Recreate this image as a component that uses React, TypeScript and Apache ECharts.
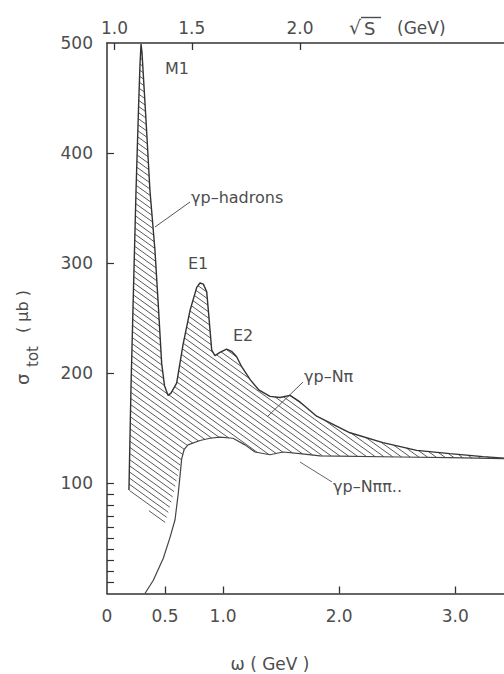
import React, { useEffect, useRef } from "react";
import * as echarts from "echarts";

// proton mass (GeV) for the √s ↔ ω relation of the top axis
const MP = 0.938;

// Total cross section γp → hadrons (upper edge of hatched band): [ω (GeV), σ (μb)]
const totalCurve: number[][] = [
  [0.189, 94], [0.207, 189], [0.228, 276], [0.25, 366], [0.271, 439], [0.284, 480],
  [0.293, 499], [0.301, 492], [0.336, 430], [0.37, 366], [0.413, 312], [0.439, 267],
  [0.471, 209], [0.495, 189], [0.525, 180], [0.551, 182], [0.6, 191], [0.655, 226],
  [0.715, 257], [0.773, 278], [0.801, 282], [0.83, 281], [0.859, 274], [0.874, 256],
  [0.902, 221], [0.93, 216], [0.973, 219], [1.03, 222], [1.073, 220], [1.117, 215],
  [1.16, 206], [1.235, 194], [1.307, 185], [1.404, 179], [1.49, 178], [1.576, 180],
  [1.662, 174], [1.806, 161], [2.093, 146], [2.377, 137], [2.668, 130], [2.954, 127],
  [3.239, 124.3], [3.42, 123],
];

// Lower edge of hatched band, shared with the γp → Nππ.. curve
const lowerBoundary: number[][] = [
  [0.643, 122], [0.665, 131], [0.698, 135], [0.801, 139], [0.887, 141], [0.973, 142], [1.085, 141],
  [1.189, 135], [1.275, 128.5], [1.404, 126], [1.516, 128.5], [1.662, 127], [1.835, 125],
  [2.524, 124], [2.954, 123.5], [3.42, 122.5],
];

// γp → Nππ.. rise from threshold up to the band
const nppRise: number[][] = [
  [0.327, 0], [0.399, 12], [0.485, 32], [0.543, 51], [0.586, 67], [0.614, 91], [0.632, 110],
];

// Bottom edge of the hatching at low ω
const hatchLowerLeft: number[][] = [
  [0.189, 94], [0.491, 61], [0.56, 85], [0.612, 108],
];

const xTickValues = [0.5, 1.0, 2.0, 3.0];
const xLabelValues = [0, 0.5, 1.0, 2.0, 3.0];
const sqrtSLabels = [1.0, 1.5, 2.0];
const yLabelValues = [100, 200, 300, 400, 500];
const yTickValues = [10, 20, 30, 40, 50, 60, 70, 80, 90, 100, 200, 300, 400];

const FONT = "DejaVu Sans";
const TXT = "#4d4d4d";
const INK = "#333";

const omegaOf = (s: number) => (s * s - MP * MP) / (2 * MP);

export default function App() {
  const ref = useRef<HTMLDivElement>(null);

  useEffect(() => {
    const chart = echarts.init(ref.current!, null, { renderer: "svg" });

    const hatchPolygon = [
      ...totalCurve,
      ...lowerBoundary.slice().reverse(),
      ...hatchLowerLeft.slice().reverse(),
    ];
    const lowerLine = [...nppRise, ...lowerBoundary];

    const axisLineStyle = { color: INK, width: 1.5 };
    const labelStyle = { fontFamily: FONT, fontSize: 17, color: TXT };

    const option: any = {
      animation: false,
      backgroundColor: "#fff",
      grid: { left: 107, top: 43, right: 0, bottom: 80.5, containLabel: false, outerBoundsMode: "none" },
      xAxis: [
        {
          type: "value", min: 0, max: 3.42, position: "bottom",
          axisLine: { show: true, lineStyle: axisLineStyle },
          axisTick: { show: true, inside: true, length: 7, customValues: xTickValues, lineStyle: { color: INK, width: 1.3 } },
          axisLabel: {
            ...labelStyle, margin: 14, customValues: xLabelValues,
            formatter: (v: number) => (v === 0 ? "0" : v.toFixed(1)),
          },
          splitLine: { show: false },
        },
        {
          type: "value", min: 0, max: 3.42, position: "top",
          axisLine: { show: true, onZero: false, lineStyle: axisLineStyle },
          axisTick: { show: true, inside: true, length: 7, customValues: sqrtSLabels.map(omegaOf), lineStyle: { color: INK, width: 1.3 } },
          axisLabel: {
            ...labelStyle, margin: 7, customValues: sqrtSLabels.map(omegaOf),
            formatter: (v: number) => Math.sqrt(MP * MP + 2 * MP * v).toFixed(1),
          },
          splitLine: { show: false },
        },
      ],
      yAxis: [
        {
          type: "value", min: 0, max: 500, interval: 100,
          axisLine: { show: true, lineStyle: axisLineStyle },
          axisTick: { show: true, inside: true, length: 7, customValues: yTickValues, lineStyle: { color: INK, width: 1.2 } },
          axisLabel: { ...labelStyle, margin: 14, customValues: yLabelValues },
          splitLine: { show: false },
        },
      ],
      series: [
        {
          type: "custom",
          coordinateSystem: "cartesian2d",
          xAxisIndex: 0, yAxisIndex: 0,
          silent: true,
          z: 1,
          data: [[0, 0]],
          renderItem: (_params: any, api: any) => {
            const poly = hatchPolygon.map((p) => api.coord(p) as number[]);
            const slope = 0.72;
            const step = 6.2;
            let cmin = Infinity, cmax = -Infinity;
            for (const [x, y] of poly) {
              const c = y - slope * x;
              if (c < cmin) cmin = c;
              if (c > cmax) cmax = c;
            }
            const children: any[] = [];
            const n = poly.length;
            for (let c = Math.ceil(cmin / step) * step + 0.5; c <= cmax; c += step) {
              const xs: number[] = [];
              for (let i = 0; i < n; i++) {
                const p = poly[i], q = poly[(i + 1) % n];
                const fp = p[1] - slope * p[0] - c;
                const fq = q[1] - slope * q[0] - c;
                if ((fp < 0) !== (fq < 0)) {
                  const t = fp / (fp - fq);
                  xs.push(p[0] + t * (q[0] - p[0]));
                }
              }
              xs.sort((a, b) => a - b);
              for (let k = 0; k + 1 < xs.length; k += 2) {
                children.push({
                  type: "line",
                  shape: { x1: xs[k], y1: slope * xs[k] + c, x2: xs[k + 1], y2: slope * xs[k + 1] + c },
                  style: { stroke: "#5a5a5a", lineWidth: 1 },
                });
              }
            }
            return { type: "group", children };
          },
        },
        {
          type: "line", name: "γp–hadrons", data: totalCurve, showSymbol: false, symbol: "none",
          lineStyle: { color: INK, width: 1.4 }, z: 3, silent: true,
        },
        {
          type: "line", name: "γp–Nππ", data: lowerLine, showSymbol: false, symbol: "none",
          lineStyle: { color: "#444", width: 1.2 }, z: 3, silent: true,
        },
      ],
      graphic: [
        { type: "text", left: 165, top: 60, style: { text: "M1", font: `16px "${FONT}"`, fill: TXT } },
        { type: "text", left: 188, top: 255, style: { text: "E1", font: `16px "${FONT}"`, fill: TXT } },
        { type: "text", left: 233, top: 327, style: { text: "E2", font: `16px "${FONT}"`, fill: TXT } },
        { type: "line", shape: { x1: 155, y1: 227, x2: 190, y2: 202 }, style: { stroke: "#555", lineWidth: 1 } },
        { type: "text", x: 191, y: 197, style: { text: "γp–hadrons", font: `16px "${FONT}"`, fill: TXT, verticalAlign: "middle" } },
        { type: "line", shape: { x1: 267, y1: 417, x2: 303, y2: 382 }, style: { stroke: "#555", lineWidth: 1 } },
        { type: "text", x: 304, y: 376, style: { text: "γp–Nπ", font: `16px "${FONT}"`, fill: TXT, verticalAlign: "middle" } },
        { type: "line", shape: { x1: 300, y1: 462, x2: 332, y2: 482 }, style: { stroke: "#666", lineWidth: 1 } },
        { type: "text", x: 333, y: 486, style: { text: "γp–Nππ..", font: `16px "${FONT}"`, fill: TXT, verticalAlign: "middle" } },
        // top axis title √S (GeV)
        { type: "text", x: 349, y: 27, style: { text: "√", font: `19px "${FONT}"`, fill: TXT, verticalAlign: "middle" } },
        { type: "text", x: 364, y: 28, style: { text: "S", font: `18px "${FONT}"`, fill: TXT, verticalAlign: "middle" } },
        { type: "line", shape: { x1: 361, y1: 17.5, x2: 381, y2: 17.5 }, style: { stroke: TXT, lineWidth: 1.4 } },
        { type: "text", x: 397, y: 28, style: { text: "(GeV)", font: `17px "${FONT}"`, fill: TXT, verticalAlign: "middle" } },
        // bottom axis title
        { type: "text", x: 270, y: 664, style: { text: "ω ( GeV )", font: `17px "${FONT}"`, fill: TXT, align: "center", verticalAlign: "middle" } },
        // y axis title σ_tot (μb), rotated
        {
          type: "group", x: 27, y: 337, rotation: Math.PI / 2,
          children: [
            { type: "text", x: -48, y: -5, style: { text: "σ", font: `18px "${FONT}"`, fill: TXT, verticalAlign: "middle" } },
            { type: "text", x: -30, y: 6, style: { text: "tot", font: `15px "${FONT}"`, fill: TXT, verticalAlign: "middle" } },
            { type: "text", x: 4, y: -5, style: { text: "( μb )", font: `16px "${FONT}"`, fill: TXT, verticalAlign: "middle" } },
          ],
        },
      ],
    };

    chart.setOption(option);
    return () => chart.dispose();
  }, []);

  return (
    <div
      ref={ref}
      style={{ position: "absolute", left: 0, top: 0, width: 504, height: 674, background: "#fff" }}
    />
  );
}
